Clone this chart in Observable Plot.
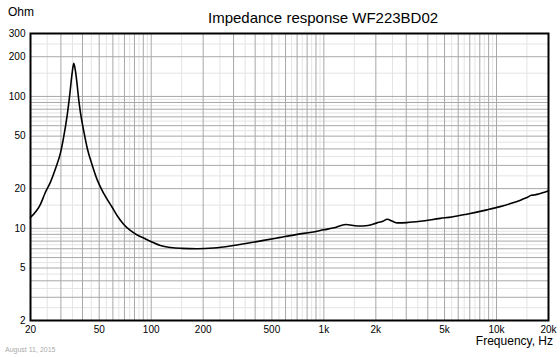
<!DOCTYPE html>
<html>
<head>
<meta charset="utf-8">
<script src="https://cdn.jsdelivr.net/npm/d3@7"></script>
<script src="https://cdn.jsdelivr.net/npm/@observablehq/plot@0.6"></script>
<style>
  html, body { margin: 0; padding: 0; background: #fff; }
  #wrap { position: relative; width: 560px; height: 357px; font-family: "Liberation Sans", Arial, sans-serif; }
  .lbl { position: absolute; white-space: nowrap; line-height: 1; color: #000; }
</style>
</head>
<body>
<div id="wrap">
  <div class="lbl" id="title" style="left:208px; top:10px; font-size:15px;">Impedance response WF223BD02</div>
  <div class="lbl" id="ylab" style="left:8px; top:6px; font-size:12px;">Ohm</div>
  <div class="lbl" id="xlab" style="right:7px; top:335px; font-size:12px;">Frequency, Hz</div>
  <div class="lbl" id="date" style="left:5px; top:346px; font-size:7px; color:#aaa;">August 11, 2015</div>
</div>
<script>
// Impedance curve
const freq = [20, 22.9, 24.2, 26.1, 27.9, 29.9, 31.1, 32.6, 33.8, 34.8, 35.6, 36.4, 37.2, 38.0, 38.9, 40.8, 42.7, 45.6, 48.9, 53.2, 59.3, 64, 69.4, 76, 83, 91, 99.5, 113, 130, 150, 185, 230, 288, 360, 448, 550, 702, 850, 1000, 1150, 1339, 1566, 1800, 2030, 2200, 2325, 2500, 2660, 3020, 3620, 4720, 5500, 6720, 8800, 10500, 12050, 14000, 15140, 15900, 16560, 17500, 20000];
const ohm  = [12.1, 15.3, 18.3, 22.4, 28.3, 37.8, 49, 71.6, 104.6, 148, 178, 157, 125, 96, 76, 53.6, 40.1, 30, 23, 18.3, 14.5, 12.3, 10.7, 9.6, 8.9, 8.4, 7.95, 7.4, 7.15, 7.05, 7.0, 7.1, 7.35, 7.7, 8.1, 8.5, 9.0, 9.35, 9.75, 10.1, 10.7, 10.4, 10.5, 11.0, 11.3, 11.7, 11.3, 11.0, 11.05, 11.3, 11.9, 12.2, 12.8, 13.8, 14.6, 15.4, 16.5, 17.2, 17.8, 17.9, 18.2, 19.3];

const xTicks = [20, 50, 100, 200, 500, 1000, 2000, 5000, 10000, 20000];
const xTickLabels = ["20", "50", "100", "200", "500", "1k", "2k", "5k", "10k", "20k"];
const yTicks = [2, 5, 10, 20, 50, 100, 200, 300];

const xMajor = [30,40,50,60,70,80,90,100,200,300,400,500,600,700,800,900,1000,2000,3000,4000,5000,6000,7000,8000,9000,10000];
const xMinor = [25,35,45,55,65,75,85,95,150,250,350,450,550,650,750,850,950,1500,2500,3500,4500,5500,6500,7500,8500,9500,15000];
const yMajor = [3,4,5,6,7,8,9,10,20,30,40,50,60,70,80,90,100,200];
const yMinor = [2.5,3.5,4.5,5.5,6.5,7.5,8.5,9.5,15,25,35,45,55,65,75,85,95,150,250];

const data = freq.map((f, i) => ({f, z: ohm[i]}));
const xLab = xTicks.map((v, i) => ({v, t: xTickLabels[i]}));

const chart = Plot.plot({
  width: 560,
  height: 357,
  marginLeft: 30,
  marginRight: 12,
  marginTop: 33,
  marginBottom: 37,
  style: {fontFamily: '"Liberation Sans", Arial, sans-serif', fontSize: "10px", background: "transparent", color: "#000"},
  x: {type: "log", domain: [20, 20000], axis: null},
  y: {type: "log", domain: [2, 300], ticks: yTicks, tickFormat: d => String(d), tickSize: 0, tickPadding: 5, label: null},
  marks: [
    Plot.ruleX(xMinor, {stroke: "#e4e4e4", strokeWidth: 1}),
    Plot.ruleY(yMinor, {stroke: "#e4e4e4", strokeWidth: 1}),
    Plot.ruleX(xMajor, {stroke: "#a8a8a8", strokeWidth: 1}),
    Plot.ruleY(yMajor, {stroke: "#a8a8a8", strokeWidth: 1}),
    Plot.line(data, {x: "f", y: "z", stroke: "#000", strokeWidth: 1.6, curve: "monotone-x"}),
    Plot.frame({stroke: "#000", strokeWidth: 2}),
    Plot.text(xLab, {x: "v", text: "t", frameAnchor: "bottom", lineAnchor: "top", dy: 5, fontSize: 10, fill: "#000"})
  ]
});
chart.style.position = "absolute";
chart.style.left = "0";
chart.style.top = "0";
document.getElementById("wrap").prepend(chart);
</script>
</body>
</html>
